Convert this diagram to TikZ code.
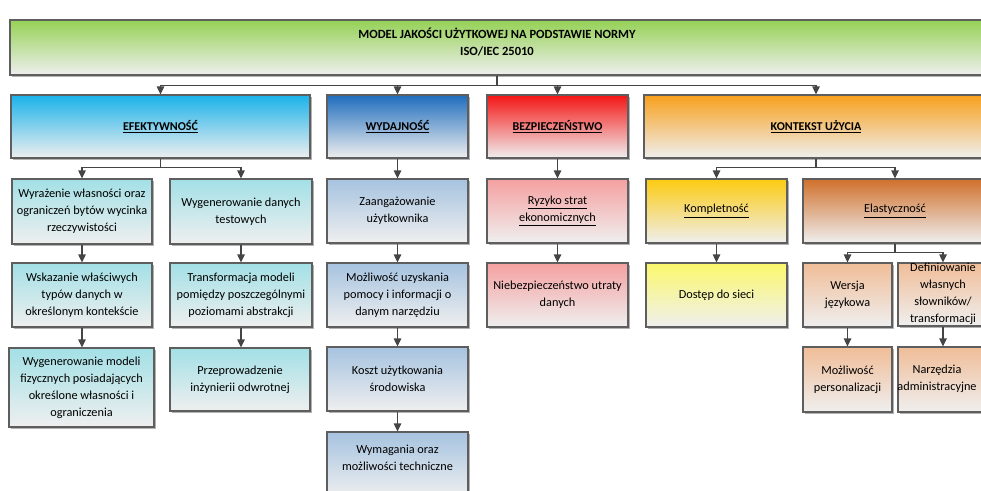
\documentclass[tikz,border=0pt]{standalone}
\usepackage{fontspec}
\setmainfont{Carlito}
\usetikzlibrary{arrows.meta,shadows}

\definecolor{boxline}{HTML}{5E5E5E}
\definecolor{connline}{HTML}{454545}
\definecolor{fadebottom}{HTML}{EFEFEF}
\definecolor{cGreen}{HTML}{95D155}
\definecolor{cCyan}{HTML}{1AB2EA}
\definecolor{cBlue}{HTML}{1F6DBD}
\definecolor{cRed}{HTML}{F51515}
\definecolor{cOrange}{HTML}{F8A01C}
\definecolor{cGold}{HTML}{FCCB12}
\definecolor{cRust}{HTML}{D0702C}
\definecolor{cCyanLt}{HTML}{A2E0E6}
\definecolor{cBlueLt}{HTML}{A6C3E0}
\definecolor{cRedLt}{HTML}{F5A0A0}
\definecolor{cYellowLt}{HTML}{FBF86C}
\definecolor{cPeachLt}{HTML}{F0BD98}

\newcommand\bodyfont{\fontsize{9.2}{12.8}\selectfont}
\newcommand\headfont{\fontsize{9}{11}\selectfont\bfseries}
\newcommand\titlefont{\fontsize{9.4}{12.8}\selectfont\bfseries}

% \qbox{name}{x1}{y1}{x2}{y2}{style}{text} -- box given by its corners (px)
\newcommand\qbox[7]{%
  \pgfmathsetmacro\qbw{(#4-#2)*0.75}%
  \pgfmathsetmacro\qbh{(#5-#3)*0.75}%
  \node[#6, minimum width=\qbw pt, minimum height=\qbh pt] (#1)
    at ({(#2+#4)/2},{(#3+#5)/2}) {#7};}

\begin{document}
\begin{tikzpicture}[x=0.75pt,y=-0.75pt,
  box/.style={draw=boxline, line width=0.8pt, inner sep=1pt, align=center,
    font=\bodyfont,
    drop shadow={shadow xshift=1.4pt, shadow yshift=-1.4pt, opacity=0.3, fill=black}},
  grad/.style={box, top color=#1, bottom color=fadebottom},
  head/.style={box, top color=#1, bottom color=fadebottom, font=\headfont},
  conn/.style={draw=connline, line width=1.1pt,
    -{Triangle[width=5.5pt,length=6pt]}},
  plain/.style={inner sep=0pt, align=center, font=\bodyfont}]

\useasboundingbox (0,0) rectangle (981,491);
\begin{scope}
\clip (0,0) rectangle (981,491);

% top of the model
\qbox{top}{10}{20}{984}{75}{grad=cGreen}{}
\node[plain, font=\titlefont] (title) at (497,42)
  {MODEL JAKOŚCI UŻYTKOWEJ NA PODSTAWIE NORMY\\ISO/IEC 25010};

% main characteristics
\qbox{ef}{11}{95}{310}{158}{head=cCyan}{\underline{EFEKTYWNOŚĆ}}
\qbox{wy}{327}{95}{468}{158}{head=cBlue}{\underline{WYDAJNOŚĆ}}
\qbox{bz}{487}{95}{628}{158}{head=cRed}{\underline{BEZPIECZEŃSTWO}}
\qbox{ks}{644}{95}{988}{158}{head=cOrange}{\underline{KONTEKST UŻYCIA}}

% efektywność
\qbox{e1}{12}{179}{152}{244}{grad=cCyanLt}{Wyrażenie własności oraz\\ograniczeń bytów wycinka\\rzeczywistości}
\qbox{e2}{170}{179}{312}{244}{grad=cCyanLt}{Wygenerowanie danych\\testowych}
\qbox{e3}{12}{263}{152}{327}{grad=cCyanLt}{Wskazanie właściwych\\typów danych w\\określonym kontekście}
\qbox{e4}{170}{263}{312}{327}{grad=cCyanLt}{Transformacja modeli\\pomiędzy poszczególnymi\\poziomami abstrakcji}
\qbox{e5}{9}{348}{154}{427}{grad=cCyanLt}{Wygenerowanie modeli\\fizycznych posiadających\\określone własności i\\ograniczenia}
\qbox{e6}{170}{348}{310}{411}{grad=cCyanLt}{Przeprowadzenie\\inżynierii odwrotnej}

% wydajność
\qbox{w1}{327}{179}{468}{243}{grad=cBlueLt}{Zaangażowanie\\użytkownika}
\qbox{w2}{327}{263}{468}{327}{grad=cBlueLt}{Możliwość uzyskania\\pomocy i informacji o\\danym narzędziu}
\qbox{w3}{327}{347}{468}{411}{grad=cBlueLt}{Koszt użytkowania\\środowiska}
\qbox{w4}{327}{432}{468}{498}{grad=cBlueLt}{}
\node[plain] (w4text) at (397.5,458) {Wymagania oraz\\możliwości techniczne};

% bezpieczeństwo
\qbox{b1}{487}{179}{628}{243}{grad=cRedLt}{\underline{Ryzyko strat}\\\underline{ekonomicznych}}
\qbox{b2}{487}{263}{628}{327}{grad=cRedLt}{Niebezpieczeństwo utraty\\danych}

% kontekst użycia
\qbox{k1}{646}{179}{787}{243}{grad=cGold}{\underline{Kompletność}}
\qbox{k2}{803}{179}{987}{243}{grad=cRust}{\underline{Elastyczność}}
\qbox{k3}{646}{263}{787}{327}{grad=cYellowLt}{Dostęp do sieci}
\qbox{k4}{803}{263}{892}{327}{grad=cPeachLt}{Wersja\\językowa}
\qbox{k5}{898}{263}{988}{326}{grad=cPeachLt}{}
\node[plain] (k5text) at (943,294) {Definiowanie\\własnych\\słowników/\\transformacji};
\qbox{k6}{803}{347}{892}{412}{grad=cPeachLt}{Możliwość\\personalizacji}
\qbox{k7}{898}{347}{990}{412}{grad=cPeachLt}{}
\node[plain] (k7text) at (937,379) {Narzędzia\\administracyjne};

% connectors
\foreach \n in {ef,wy,bz,ks}
  \draw[conn] (top.south) -- ++(0,10) -| (\n.north);
\foreach \n in {e1,e2}
  \draw[conn] (ef.south) -- ++(0,9) -| (\n.north);
\foreach \n in {k1,k2}
  \draw[conn] (ks.south) -- ++(0,9) -| (\n.north);
\foreach \n in {k4,k5}
  \draw[conn] (k2.south) -- ++(0,9) -| (\n.north);
\foreach \a/\b in {e1/e3,e3/e5,e2/e4,e4/e6,wy/w1,w1/w2,w2/w3,w3/w4,
                   bz/b1,b1/b2,k1/k3,k4/k6,k5/k7}
  \draw[conn] (\a.south) -- (\a.south |- \b.north);
\end{scope}
\end{tikzpicture}
\end{document}
